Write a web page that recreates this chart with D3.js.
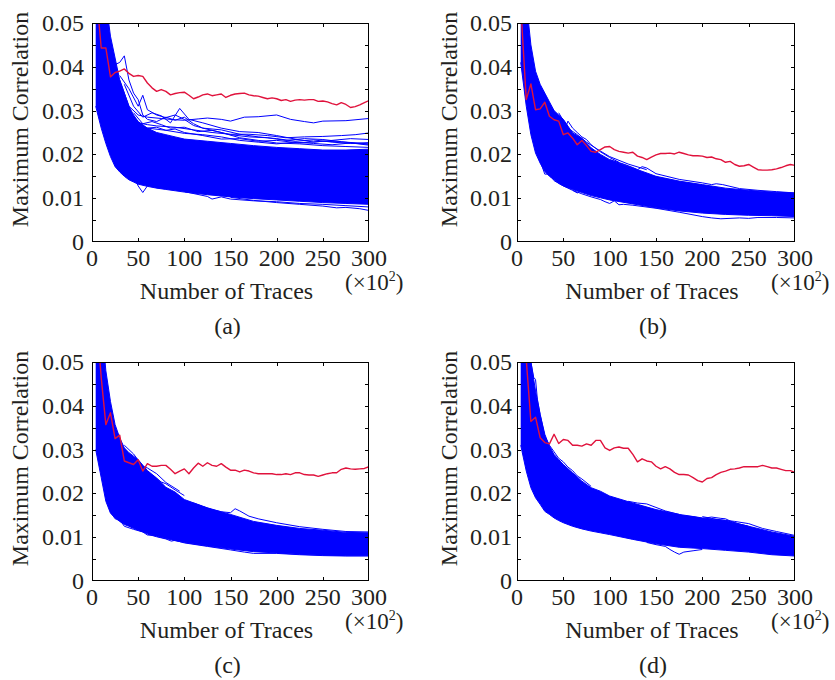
<!DOCTYPE html>
<html><head><meta charset="utf-8">
<script src="https://cdn.jsdelivr.net/npm/d3@7"></script>
<style>
body{margin:0;background:#fff}
svg{display:block}
text{font-family:"Liberation Serif","Times New Roman",serif;fill:#231f20}
</style>
</head><body>
<svg id="chart" width="835" height="680"></svg>
<script>
// ---------- data ----------
const xTicks = [0, 50, 100, 150, 200, 250, 300];
const yTicks = [0, 0.01, 0.02, 0.03, 0.04, 0.05];
const yMinorTicks = [0.005, 0.015, 0.025, 0.035, 0.045];
const yTickLabels = ["0", "0.01", "0.02", "0.03", "0.04", "0.05"];
const panelLabels = ["(a)", "(b)", "(c)", "(d)"];
const xTitle = "Number of Traces";
const yTitle = "Maximum Correlation";

// x positions (×10^2 traces) for envelope of the wrong-key band
const bandX = [4,10,15,20,25,30,35,40,45,50,60,70,80,90,100,125,150,175,200,225,250,275,300];
const upperA = [0.06,0.06,0.055,0.047,0.042,0.037,0.034,0.031,0.029,0.0275,0.026,0.025,0.0245,0.024,0.0235,0.023,0.0225,0.022,0.0216,0.0213,0.021,0.021,0.0212];
const lowerA = [0.031,0.026,0.0225,0.0195,0.0172,0.016,0.015,0.0142,0.0137,0.0132,0.0127,0.0123,0.012,0.0117,0.0114,0.0108,0.0103,0.0099,0.0096,0.0093,0.009,0.0088,0.0086];
const upperB = [0.06,0.055,0.045,0.039,0.036,0.034,0.032,0.030,0.029,0.028,0.0249,0.0237,0.0215,0.020,0.0188,0.0169,0.015,0.0139,0.0131,0.0123,0.0118,0.0114,0.0112];
const lowerB = [0.041,0.031,0.0245,0.0203,0.018,0.0161,0.015,0.0142,0.0134,0.0128,0.012,0.0113,0.0106,0.0101,0.0096,0.0087,0.0078,0.0071,0.0066,0.0063,0.0061,0.006,0.0058];
const upperC = [0.06,0.06,0.048,0.041,0.0357,0.0327,0.0304,0.0293,0.0285,0.0277,0.0252,0.0235,0.0214,0.0203,0.0186,0.0167,0.0152,0.0136,0.0127,0.012,0.0116,0.0111,0.011];
const lowerC = [0.03,0.0236,0.0182,0.0155,0.0144,0.0136,0.0129,0.0125,0.012,0.0116,0.0108,0.0102,0.0097,0.0092,0.0088,0.008,0.0073,0.0067,0.0064,0.0061,0.0059,0.0058,0.0058];
const upperD = [0.06,0.06,0.05,0.0434,0.038,0.0335,0.0308,0.0289,0.0277,0.0266,0.0247,0.0228,0.0213,0.0205,0.0194,0.0178,0.0163,0.0152,0.0144,0.0138,0.0125,0.0112,0.0102];
const lowerD = [0.031,0.0251,0.0213,0.019,0.0175,0.0159,0.0152,0.0144,0.0138,0.0133,0.0125,0.0119,0.0114,0.011,0.0106,0.0095,0.0085,0.0077,0.0074,0.007,0.0066,0.006,0.0057];

// correct-key (red) traces, x = 5..300 step 5
const redX = [5,10,15,20,25,30,35,40,45,50,55,60,65,70,75,80,85,90,95,100,105,110,115,120,125,130,135,140,145,150,155,160,165,170,175,180,185,190,195,200,205,210,215,220,225,230,235,240,245,250,255,260,265,270,275,280,285,290,295,300];
const redA = [0.056,0.0443,0.0443,0.0377,0.0387,0.039,0.0395,0.0385,0.0378,0.038,0.0378,0.0363,0.0352,0.0344,0.0348,0.0344,0.0336,0.0339,0.0341,0.0342,0.0335,0.0327,0.0331,0.0336,0.0338,0.0334,0.0336,0.0338,0.033,0.0335,0.0338,0.0339,0.034,0.0336,0.0334,0.0333,0.033,0.0327,0.0329,0.0327,0.0323,0.0325,0.0321,0.0324,0.0325,0.0324,0.0325,0.0325,0.0321,0.0322,0.032,0.0316,0.0313,0.0318,0.0314,0.0307,0.0309,0.0313,0.0318,0.0323];
const redB = [0.0505,0.0325,0.0361,0.0302,0.0304,0.0319,0.0287,0.0279,0.0276,0.0245,0.0249,0.0237,0.0222,0.0232,0.022,0.0207,0.0205,0.0211,0.0217,0.0218,0.0211,0.0207,0.0205,0.0203,0.0205,0.0196,0.0193,0.0188,0.0194,0.0199,0.0202,0.0202,0.0203,0.0201,0.0205,0.0202,0.0199,0.0197,0.0197,0.0196,0.0193,0.0194,0.019,0.0188,0.0182,0.0184,0.0177,0.0173,0.0174,0.0177,0.0171,0.0165,0.0164,0.0164,0.0165,0.0167,0.017,0.0174,0.0177,0.0175];
const redC = [0.06,0.0464,0.0357,0.0384,0.0325,0.0333,0.0274,0.027,0.0266,0.0277,0.0251,0.0268,0.0262,0.0262,0.0264,0.0264,0.0255,0.0245,0.0251,0.0256,0.0245,0.0258,0.0269,0.0262,0.027,0.0264,0.0262,0.0268,0.026,0.0253,0.0253,0.0249,0.0253,0.0251,0.0247,0.0245,0.0245,0.0245,0.0245,0.0243,0.0243,0.0245,0.0243,0.0247,0.0247,0.0243,0.0242,0.0242,0.0239,0.0242,0.0245,0.0247,0.0247,0.0255,0.0258,0.0256,0.0255,0.0256,0.0257,0.0261];
const redD = [0.09,0.0505,0.0364,0.0374,0.0327,0.0316,0.0313,0.0335,0.0314,0.0323,0.0321,0.031,0.031,0.0308,0.0313,0.031,0.0321,0.0321,0.0304,0.0298,0.0304,0.0306,0.0303,0.0303,0.0289,0.0272,0.0279,0.0274,0.0272,0.0262,0.0256,0.0261,0.0256,0.0248,0.0243,0.0243,0.0242,0.0236,0.0229,0.0226,0.0234,0.0236,0.0243,0.0248,0.0251,0.0255,0.0256,0.0258,0.0261,0.0261,0.0261,0.0261,0.0264,0.0261,0.0258,0.0258,0.0255,0.0252,0.0252,0.0248];

// individual wrong-key traces that stand out of the band: [x, value]
const extraA = [
 [[30,0.037],[40,0.031],[50,0.029],[60,0.0285],[75,0.0282],[90,0.0279],[100,0.0278],[115,0.0281],[125,0.0283],[140,0.028],[150,0.0276],[165,0.0285],[180,0.0286],[200,0.029],[215,0.028],[230,0.0275],[240,0.0272],[250,0.0276],[275,0.0277],[300,0.0282]],
 [[25,0.039],[30,0.034],[40,0.029],[50,0.0272],[60,0.0268],[70,0.0265],[90,0.0262],[110,0.0256],[130,0.025],[150,0.0246],[170,0.0246],[190,0.0243],[210,0.0238],[230,0.024],[250,0.0241],[270,0.0243],[285,0.0245],[300,0.0249]],
 [[15,0.05],[20,0.045],[25,0.0405],[30,0.041],[35,0.0425],[40,0.037],[45,0.034],[50,0.0325],[55,0.029],[60,0.028],[70,0.0275],[80,0.0285],[90,0.0278],[100,0.0285],[110,0.027],[120,0.026],[140,0.025],[160,0.0238],[180,0.0232],[200,0.0226],[225,0.0224],[250,0.022],[275,0.0218],[300,0.0216]],
 [[30,0.038],[40,0.035],[50,0.031],[55,0.0335],[60,0.0302],[70,0.029],[80,0.0284],[90,0.029],[100,0.028],[110,0.0266],[120,0.026],[140,0.0256],[160,0.0246],[180,0.024],[200,0.0236],[220,0.023],[240,0.0233],[260,0.0228],[280,0.0225],[300,0.0227]],
 [[35,0.036],[45,0.031],[55,0.0285],[65,0.0295],[75,0.0288],[85,0.0272],[95,0.0305],[105,0.028],[120,0.0272],[140,0.026],[160,0.0252],[180,0.025],[200,0.0243],[220,0.0235],[240,0.0228],[260,0.0232],[280,0.0236],[300,0.0234]],
 [[60,0.026],[80,0.0255],[100,0.0248],[120,0.0245],[140,0.024],[160,0.0232],[180,0.0228],[200,0.0224],[220,0.0228],[240,0.0225],[260,0.0222],[280,0.0226],[300,0.0223]],
 [[40,0.03],[50,0.0265],[60,0.026],[70,0.0262],[80,0.0255],[90,0.0258],[100,0.025],[120,0.0243],[140,0.0235],[160,0.0236],[180,0.023],[200,0.0232],[225,0.0226],[250,0.023],[275,0.0228],[300,0.0224]],
 [[45,0.0295],[55,0.027],[65,0.0275],[75,0.0268],[85,0.026],[100,0.0262],[115,0.0252],[130,0.0255],[150,0.0245],[170,0.024],[190,0.0238],[210,0.0232],[230,0.0236],[250,0.0234],[270,0.0229],[300,0.0221]],
 [[25,0.0195],[35,0.0165],[45,0.015],[50,0.0128],[55,0.0113],[60,0.0128],[65,0.0132],[70,0.0124],[80,0.0126],[100,0.0118],[110,0.0115],[125,0.0112],[150,0.0105]],
 [[150,0.0102],[175,0.0095],[200,0.009],[225,0.0086],[250,0.0082],[265,0.0078],[275,0.0079],[290,0.0076],[300,0.0072]],
 [[100,0.0115],[125,0.0104],[130,0.0098],[140,0.0103],[150,0.0098],[175,0.0094],[200,0.0092],[225,0.0088],[250,0.0086],[275,0.0083],[300,0.008]]
];
const extraB = [
 [[40,0.0288],[45,0.027],[50,0.0248],[55,0.0276],[60,0.026],[65,0.025],[70,0.024],[75,0.0234],[80,0.0222],[90,0.0206],[100,0.0193],[110,0.0182]],
 [[45,0.0295],[55,0.026],[65,0.0245],[75,0.0228],[85,0.0214],[100,0.0195],[120,0.0178],[140,0.0165]],
 [[100,0.0188],[115,0.0178],[125,0.017],[130,0.0165],[135,0.0172],[140,0.0169],[150,0.0156],[175,0.0143],[200,0.0135],[210,0.0131],[215,0.0133],[222,0.0131],[240,0.0122],[260,0.0118],[280,0.0115],[300,0.0112]],
 [[60,0.0118],[70,0.011],[80,0.0103],[90,0.0097],[95,0.0092],[100,0.0088],[105,0.0094],[110,0.0085],[115,0.0086],[125,0.0084],[150,0.0077],[175,0.0068],[200,0.0058],[210,0.0055],[220,0.0053],[240,0.0055],[250,0.0054],[260,0.0056],[280,0.0056],[300,0.0055]],
 [[25,0.0185],[30,0.0155],[35,0.0155],[40,0.014],[50,0.0128],[60,0.0118],[65,0.0112],[70,0.0117],[80,0.0108]]
];
const extraC = [
 [[110,0.0178],[120,0.017],[130,0.0163],[140,0.0158],[150,0.0156],[155,0.0165],[160,0.016],[170,0.0148],[180,0.0142],[200,0.0133],[225,0.0124],[250,0.0118],[275,0.0113],[300,0.0112]],
 [[50,0.027],[55,0.0258],[60,0.0248],[65,0.024],[68,0.0237],[75,0.0226],[80,0.0222],[90,0.0208],[100,0.0195]],
 [[35,0.031],[45,0.029],[55,0.0262],[60,0.0258],[70,0.0245],[80,0.0225],[95,0.0205]],
 [[15,0.0195],[20,0.0158],[25,0.0142],[30,0.014],[35,0.0125],[45,0.0118],[55,0.0112],[60,0.0105],[70,0.0104]],
 [[60,0.0107],[70,0.0101],[80,0.0096],[86,0.0091],[90,0.0093],[100,0.0087],[125,0.0079],[150,0.0071],[165,0.0066],[175,0.0063],[200,0.0063],[225,0.006],[250,0.0058],[275,0.0057],[300,0.0057]]
];
const extraD = [
 [[15,0.05],[18,0.0465],[20,0.046],[22,0.0415],[25,0.038],[30,0.033],[35,0.031]],
 [[170,0.0152],[180,0.0149],[190,0.0147],[200,0.0143],[210,0.0146],[220,0.0143],[225,0.0142],[230,0.0137],[240,0.013],[250,0.0125]],
 [[200,0.0147],[215,0.0141],[235,0.0136],[250,0.0131],[265,0.012],[280,0.0113],[300,0.0104]],
 [[120,0.0182],[130,0.0178],[140,0.0176],[150,0.0168],[160,0.016],[175,0.0152]],
 [[140,0.0088],[150,0.0083],[160,0.0079],[165,0.0072],[170,0.0066],[175,0.0061],[180,0.0066],[190,0.0069],[200,0.0072]],
 [[35,0.031],[40,0.0295],[45,0.028],[50,0.0272],[55,0.026],[60,0.0252],[65,0.024],[70,0.0233],[80,0.0216]]
];

// ---------- drawing ----------
const BLUE = "#0000ff", RED = "#e0123c";
const FS = 24;
const svg = d3.select("#chart");

const panels = [
  {id:"a", x0:92, x1:369, y0:23, y1:242, tickGap:8, titleX:28, upper:upperA, lower:lowerA, red:redA, extra:extraA, label:panelLabels[0]},
  {id:"b", x0:517, x1:795, y0:23, y1:242, tickGap:5, titleX:457, upper:upperB, lower:lowerB, red:redB, extra:extraB, label:panelLabels[1]},
  {id:"c", x0:92, x1:369, y0:362, y1:581, tickGap:8, titleX:28, upper:upperC, lower:lowerC, red:redC, extra:extraC, label:panelLabels[2]},
  {id:"d", x0:517, x1:795, y0:362, y1:581, tickGap:5, titleX:457, upper:upperD, lower:lowerD, red:redD, extra:extraD, label:panelLabels[3]}
];

const defs = svg.append("defs");

panels.forEach(p => {
  const x = d3.scaleLinear().domain([0, 300]).range([p.x0, p.x1]);
  const y = d3.scaleLinear().domain([0, 0.05]).range([p.y1, p.y0]);
  const g = svg.append("g");

  defs.append("clipPath").attr("id", "clip-" + p.id)
    .append("rect").attr("x", p.x0).attr("y", p.y0)
    .attr("width", p.x1 - p.x0).attr("height", p.y1 - p.y0);

  const plot = g.append("g").attr("clip-path", `url(#clip-${p.id})`);

  const band = bandX.map((v, i) => ({x: v, hi: p.upper[i], lo: p.lower[i]}));
  plot.append("path").datum(band)
    .attr("fill", BLUE)
    .attr("d", d3.area().x(d => x(d.x)).y0(d => y(d.lo)).y1(d => y(d.hi)));
  const line = d3.line().x(d => x(d[0])).y(d => y(d[1]));
  plot.append("path").datum(band.map(d => [d.x, d.hi]))
    .attr("fill", "none").attr("stroke", BLUE).attr("stroke-width", 1).attr("d", line);
  plot.append("path").datum(band.map(d => [d.x, d.lo]))
    .attr("fill", "none").attr("stroke", BLUE).attr("stroke-width", 1).attr("d", line);

  plot.selectAll("path.extra").data(p.extra).enter().append("path")
    .attr("class", "extra").attr("fill", "none")
    .attr("stroke", BLUE).attr("stroke-width", 1).attr("stroke-linejoin", "round")
    .attr("d", line);

  plot.append("path").datum(redX.map((v, i) => [v, p.red[i]]))
    .attr("fill", "none").attr("stroke", RED).attr("stroke-width", 1.4)
    .attr("stroke-linejoin", "round").attr("d", line);

  // frame
  g.append("rect").attr("x", p.x0 + 0.5).attr("y", p.y0 + 0.5)
    .attr("width", p.x1 - p.x0 - 1).attr("height", p.y1 - p.y0 - 1)
    .attr("fill", "none").attr("stroke", "#000").attr("stroke-width", 1);

  // y ticks (inward, both sides)
  const allY = yTicks.concat(yMinorTicks).filter(v => v > 0 && v < 0.05);
  allY.forEach(v => {
    const yy = Math.round(y(v)) + 0.5;
    g.append("line").attr("x1", p.x0).attr("x2", p.x0 + 4).attr("y1", yy).attr("y2", yy).attr("stroke", "#000");
    g.append("line").attr("x1", p.x1 - 4).attr("x2", p.x1).attr("y1", yy).attr("y2", yy).attr("stroke", "#000");
  });
  // x ticks (inward, top and bottom)
  xTicks.filter(v => v > 0 && v < 300).forEach(v => {
    const xx = Math.round(x(v)) + 0.5;
    g.append("line").attr("x1", xx).attr("x2", xx).attr("y1", p.y0).attr("y2", p.y0 + 4).attr("stroke", "#000");
    g.append("line").attr("x1", xx).attr("x2", xx).attr("y1", p.y1 - 4).attr("y2", p.y1).attr("stroke", "#000");
  });

  // tick labels
  g.selectAll("text.yt").data(yTicks).enter().append("text")
    .attr("x", p.x0 - p.tickGap).attr("y", d => y(d)).attr("dy", "0.33em")
    .attr("text-anchor", "end").attr("font-size", FS)
    .text((d, i) => yTickLabels[i]);
  g.selectAll("text.xt").data(xTicks).enter().append("text")
    .attr("x", d => x(d)).attr("y", p.y1 + 24)
    .attr("text-anchor", "middle").attr("font-size", FS)
    .text(d => d);

  // axis titles
  const cx = (p.x0 + p.x1) / 2;
  g.append("text").attr("transform", `translate(${p.titleX},${(p.y0 + p.y1) / 2 - 13}) rotate(-90)`)
    .attr("text-anchor", "middle").attr("font-size", FS).text(yTitle);
  g.append("text").attr("x", cx - 4).attr("y", p.y1 + 57)
    .attr("text-anchor", "middle").attr("font-size", FS).text(xTitle);
  const unit = g.append("text").attr("x", p.x1 - 24).attr("y", p.y1 + 48).attr("font-size", 23);
  unit.append("tspan").text("(\u00d710");
  unit.append("tspan").attr("font-size", 14).attr("dy", -9).text("2");
  unit.append("tspan").attr("dy", 9).text(")");

  g.append("text").attr("x", cx - 3).attr("y", p.y1 + 92)
    .attr("text-anchor", "middle").attr("font-size", FS).text(p.label);
});
</script>
</body></html>
